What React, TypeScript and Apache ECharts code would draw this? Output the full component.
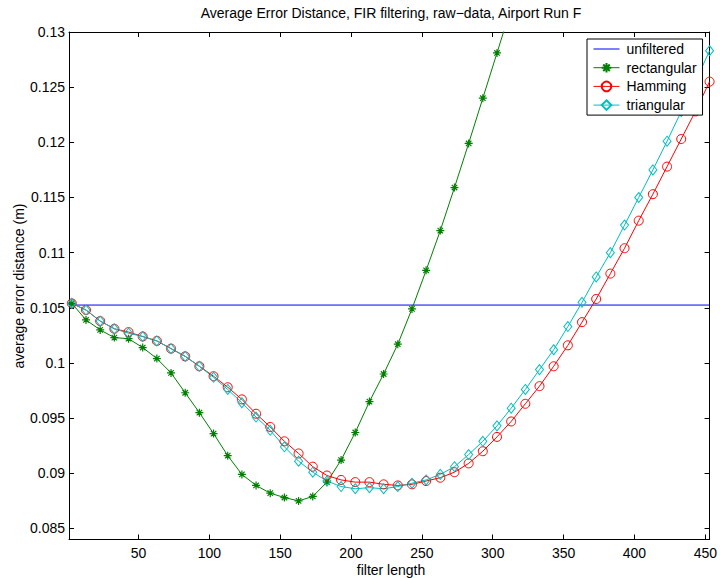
import React, { useEffect, useRef } from "react";
import * as echarts from "echarts";

const titleText = "Average Error Distance, FIR filtering, raw\u2212data, Airport Run F";
const xAxisTitle = "filter length";
const yAxisTitle = "average error distance (m)";

const filterLengths = [
  3, 13, 23, 33, 43, 53, 63, 73, 83, 93,
  103, 113, 123, 133, 143, 153, 163, 173, 183, 193,
  203, 213, 223, 233, 243, 253, 263, 273, 283, 293,
  303, 313, 323, 333, 343, 353, 363, 373, 383, 393,
  403, 413, 423, 433, 443, 453,
];

const unfilteredX = [1, 453];
const unfilteredValue = 0.10525;

const rectangular = [
  0.1054, 0.1039, 0.1030, 0.1023, 0.1022, 0.1014, 0.1004, 0.0991, 0.0973, 0.0955,
  0.0936, 0.0916, 0.0899, 0.0889, 0.0882, 0.0878, 0.0875, 0.0879, 0.0892, 0.0912,
  0.0937, 0.0965, 0.0990, 0.1017, 0.1049, 0.1084, 0.1120, 0.1159, 0.1199, 0.1240,
  0.1281, 0.1322,
];

const hamming = [
  0.1054, 0.1048, 0.1038, 0.1031, 0.1028, 0.1024, 0.1020, 0.1013, 0.1006, 0.0997,
  0.0988, 0.0978, 0.0967, 0.0954, 0.0942, 0.0929, 0.0918, 0.0906, 0.0898, 0.0894,
  0.0892, 0.0892, 0.0890, 0.0889, 0.0890, 0.0893, 0.0896, 0.0901, 0.0909, 0.0920,
  0.0933, 0.0947, 0.0963, 0.0979, 0.0997, 0.1016, 0.1037, 0.1058, 0.1081, 0.1104,
  0.1129, 0.1153, 0.1178, 0.1203, 0.1228, 0.1255,
];

const triangular = [
  0.1054, 0.1048, 0.1038, 0.1031, 0.1027, 0.1024, 0.1020, 0.1013, 0.1006, 0.0997,
  0.0987, 0.0976, 0.0964, 0.0951, 0.0939, 0.0924, 0.0911, 0.0901, 0.0893, 0.0888,
  0.0886, 0.0887, 0.0886, 0.0888, 0.0891, 0.0894, 0.0899, 0.0906, 0.0917, 0.0929,
  0.0943, 0.0959, 0.0976, 0.0994, 0.1012, 0.1033, 0.1055, 0.1078, 0.1100, 0.1125,
  0.1150, 0.1175, 0.1201, 0.1228, 0.1255, 0.1283,
];

const xTicks = [50, 100, 150, 200, 250, 300, 350, 400, 450];
const yTicks = [0.085, 0.09, 0.095, 0.1, 0.105, 0.11, 0.115, 0.12, 0.125, 0.13];

const FONT = "'Liberation Sans', Arial, Helvetica, sans-serif";
const asterisk =
  "path://M5 0 L5 10 M0 5 L10 5 M1.6 1.6 L8.4 8.4 M1.6 8.4 L8.4 1.6";
const plainLineIcon = "path://M0 0 L26 0 L26 1 L0 1 Z";

export default function App() {
  const ref = useRef<HTMLDivElement>(null);
  useEffect(() => {
    if (!ref.current) return;
    const chart = echarts.init(ref.current, null, { renderer: "svg" });
    const pair = (xs: number[], ys: number[]) => ys.map((v, i) => [xs[i], v]);
    const axisCommon = {
      type: "value" as const,
      axisLine: { show: true, onZero: false, lineStyle: { color: "#000", width: 1 } },
      splitLine: { show: false },
    };
    const option: any = {
      animation: false,
      backgroundColor: "#fff",
      textStyle: { fontFamily: FONT },
      grid: { left: 69, right: 7, top: 32, bottom: 38.5, containLabel: false },
      xAxis: [
        {
          ...axisCommon,
          min: 1,
          max: 453,
          position: "bottom",
          axisTick: { show: true, inside: true, length: 5, customValues: xTicks, lineStyle: { color: "#000" } },
          axisLabel: { customValues: xTicks, color: "#000", fontSize: 14, fontFamily: FONT, margin: 6 },
        },
        {
          ...axisCommon,
          min: 1,
          max: 453,
          position: "top",
          axisTick: { show: true, inside: true, length: 5, customValues: xTicks, lineStyle: { color: "#000" } },
          axisLabel: { show: false },
        },
      ],
      yAxis: [
        {
          ...axisCommon,
          min: 0.084,
          max: 0.13,
          position: "left",
          axisTick: { show: true, inside: true, length: 5, customValues: yTicks, lineStyle: { color: "#000" } },
          axisLabel: {
            customValues: yTicks,
            color: "#000",
            fontSize: 14,
            fontFamily: FONT,
            margin: 4,
            formatter: (v: number) => String(+Number(v).toFixed(3)),
          },
        },
        {
          ...axisCommon,
          min: 0.084,
          max: 0.13,
          position: "right",
          axisTick: { show: true, inside: true, length: 5, customValues: yTicks, lineStyle: { color: "#000" } },
          axisLabel: { show: false },
        },
      ],
      legend: {
        left: 587,
        top: 39,
        orient: "vertical",
        backgroundColor: "#fff",
        borderColor: "#000",
        borderWidth: 1,
        borderRadius: 0,
        padding: [3, 6, 3, 6],
        itemWidth: 26,
        itemHeight: 12,
        itemGap: 4.7,
        lineStyle: { width: 1 },
        textStyle: { color: "#000", fontSize: 14, fontFamily: FONT, padding: [0, 0, 0, 2] },
        data: [
          { name: "unfiltered", icon: plainLineIcon },
          "rectangular",
          "Hamming",
          "triangular",
        ],
      },
      graphic: [
        {
          type: "text",
          x: 391,
          y: 13,
          style: { text: titleText, fill: "#000", font: `14px ${FONT}`, align: "center", verticalAlign: "middle" },
        },
        {
          type: "text",
          x: 391,
          y: 570,
          style: { text: xAxisTitle, fill: "#000", font: `14px ${FONT}`, align: "center", verticalAlign: "middle" },
        },
        {
          type: "text",
          x: 19,
          y: 286,
          rotation: Math.PI / 2,
          style: { text: yAxisTitle, fill: "#000", font: `14px ${FONT}`, align: "center", verticalAlign: "middle" },
        },
      ],
      series: [
        {
          name: "unfiltered",
          type: "line",
          data: unfilteredX.map((x) => [x, unfilteredValue]),
          showSymbol: false,
          symbol: "none",
          lineStyle: { color: "#0000ff", width: 1 },
          itemStyle: { color: "#0000ff" },
        },
        {
          name: "rectangular",
          type: "line",
          data: pair(filterLengths, rectangular),
          symbol: asterisk,
          symbolSize: 8,
          lineStyle: { color: "#008000", width: 1 },
          itemStyle: { color: "rgba(0,0,0,0)", borderColor: "#008000", borderWidth: 1.2 },
        },
        {
          name: "Hamming",
          type: "line",
          data: pair(filterLengths, hamming),
          symbol: "circle",
          symbolSize: 9,
          lineStyle: { color: "#ff0000", width: 1 },
          itemStyle: { color: "rgba(0,0,0,0)", borderColor: "#ff0000", borderWidth: 1 },
        },
        {
          name: "triangular",
          type: "line",
          data: pair(filterLengths, triangular),
          symbol: "diamond",
          symbolSize: [8, 10],
          lineStyle: { color: "#00bfbf", width: 1 },
          itemStyle: { color: "rgba(0,0,0,0)", borderColor: "#00bfbf", borderWidth: 1 },
        },
      ],
    };
    chart.setOption(option);
    return () => chart.dispose();
  }, []);
  return (
    <div
      ref={ref}
      style={{ position: "fixed", left: 0, top: 0, width: 720, height: 578, background: "#fff" }}
    />
  );
}
